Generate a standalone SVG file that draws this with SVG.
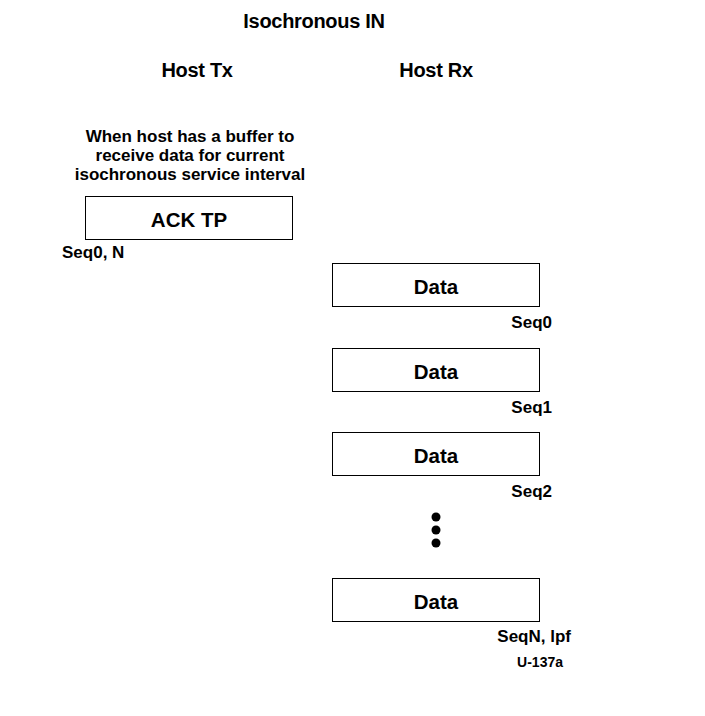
<svg xmlns="http://www.w3.org/2000/svg" width="705" height="716" viewBox="0 0 705 716">
<style>
text{font-family:"Liberation Sans",Arial,sans-serif;fill:#000;font-weight:bold}
.h{font-size:20px;text-anchor:middle;letter-spacing:-0.3px}
.b{font-size:20.5px;text-anchor:middle}
.s{font-size:17px}
.m{font-size:17px;text-anchor:middle}
.e{text-anchor:end}
.f{font-size:14px;text-anchor:end}
rect{fill:#fff;stroke:#000;stroke-width:1}
</style>
<rect x="0" y="0" width="705" height="716" style="stroke:none"/>
<text class="h" x="314" y="28">Isochronous IN</text>
<text class="h" x="197" y="77">Host Tx</text>
<text class="h" x="436" y="77">Host Rx</text>
<text class="m" x="190" y="142">When host has a buffer to</text>
<text class="m" x="190" y="161">receive data for current</text>
<text class="m" x="190" y="180">isochronous service interval</text>
<g id="ack">
<rect x="85.5" y="196.5" width="207" height="43"/>
<text class="b" x="189" y="227">ACK TP</text>
<text class="s" x="62" y="258">Seq0, N</text>
</g>
<g id="data0">
<rect x="332.5" y="263.5" width="207" height="43"/>
<text class="b" x="436" y="294">Data</text>
<text class="s e" x="552" y="328">Seq0</text>
</g>
<g id="data1">
<rect x="332.5" y="348.5" width="207" height="43"/>
<text class="b" x="436" y="379">Data</text>
<text class="s e" x="552" y="413">Seq1</text>
</g>
<g id="data2">
<rect x="332.5" y="432.5" width="207" height="43"/>
<text class="b" x="436" y="463">Data</text>
<text class="s e" x="552" y="497">Seq2</text>
</g>
<g id="dots">
<circle cx="436" cy="517" r="4.5"/>
<circle cx="436" cy="530" r="4.5"/>
<circle cx="436" cy="543" r="4.5"/>
</g>
<g id="dataN">
<rect x="332.5" y="578.5" width="207" height="43"/>
<text class="b" x="436" y="609">Data</text>
<text class="s e" x="571" y="642">SeqN, lpf</text>
</g>
<g id="connectors"/>
<text class="f" x="563" y="667">U-137a</text>
</svg>
